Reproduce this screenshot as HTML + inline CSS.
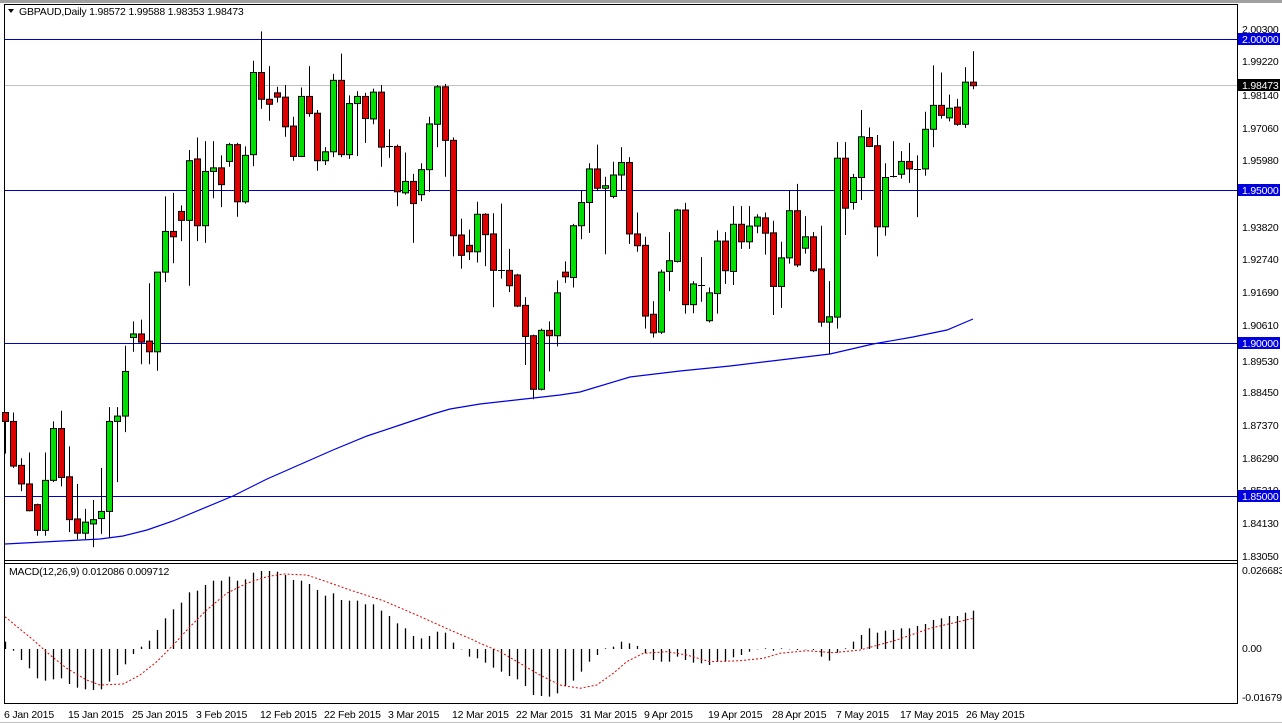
<!DOCTYPE html>
<html><head><meta charset="utf-8"><style>
html,body{margin:0;padding:0;background:#fff;}
svg{display:block;font-family:"Liberation Sans",sans-serif;font-size:10.5px;letter-spacing:-0.2px;}
</style></head><body>
<svg id="s" width="1282" height="724" viewBox="0 0 1282 724" xmlns="http://www.w3.org/2000/svg">
<rect x="0" y="0" width="1282" height="724" fill="#fff"/>
<rect x="0" y="0" width="1282" height="3" fill="#a0a0a0"/>
<line x1="4.5" y1="4" x2="4.5" y2="704" stroke="#000"/>
<line x1="4" y1="4.5" x2="1237" y2="4.5" stroke="#000"/>
<line x1="1237.5" y1="4" x2="1237.5" y2="704" stroke="#000"/>
<line x1="4" y1="560.5" x2="1237" y2="560.5" stroke="#000"/>
<line x1="4" y1="563.5" x2="1237" y2="563.5" stroke="#000"/>
<line x1="4" y1="703.5" x2="1237" y2="703.5" stroke="#000"/>
<line x1="0" y1="722.5" x2="1282" y2="722.5" stroke="#c0c0c0"/>
<line x1="5" y1="39.5" x2="1237" y2="39.5" stroke="#0000c8"/>
<line x1="5" y1="190.5" x2="1237" y2="190.5" stroke="#0000c8"/>
<line x1="5" y1="343.5" x2="1237" y2="343.5" stroke="#0000c8"/>
<line x1="5" y1="496.5" x2="1237" y2="496.5" stroke="#0000c8"/>
<line x1="5" y1="85.5" x2="1237" y2="85.5" stroke="#c0c0c0"/>
<g id="cand"></g>
<g id="macd"></g>
<path d="M8 9 L14 9 L11 13 Z" fill="#000"/>
<text x="19" y="15">GBPAUD,Daily  1.98572 1.99588 1.98353 1.98473</text>
<text x="9" y="575">MACD(12,26,9) 0.012086 0.009712</text>
<g fill="#000">
<text x="1242" y="33">2.00300</text>
<text x="1242" y="65">1.99220</text>
<text x="1242" y="99">1.98140</text>
<text x="1242" y="132">1.97060</text>
<text x="1242" y="164">1.95980</text>
<text x="1242" y="231">1.93820</text>
<text x="1242" y="263">1.92740</text>
<text x="1242" y="296">1.91690</text>
<text x="1242" y="329">1.90610</text>
<text x="1242" y="365">1.89530</text>
<text x="1242" y="396">1.88450</text>
<text x="1242" y="429">1.87370</text>
<text x="1242" y="462">1.86290</text>
<text x="1242" y="494">1.85210</text>
<text x="1242" y="527">1.84130</text>
<text x="1242" y="560">1.83050</text>
<text x="1242" y="574">0.026683</text>
<text x="1242" y="652">0.00</text>
<text x="1242" y="701">-0.016799</text>
</g>
<rect x="1238" y="33" width="42" height="12" fill="#0000e0"/><text x="1242" y="43" fill="#fff">2.00000</text>
<rect x="1238" y="79" width="42" height="12" fill="#000"/><text x="1242" y="89" fill="#fff">1.98473</text>
<rect x="1238" y="184" width="42" height="12" fill="#0000e0"/><text x="1242" y="194" fill="#fff">1.95000</text>
<rect x="1238" y="337" width="42" height="12" fill="#0000e0"/><text x="1242" y="347" fill="#fff">1.90000</text>
<rect x="1238" y="490" width="42" height="12" fill="#0000e0"/><text x="1242" y="500" fill="#fff">1.85000</text>
<g fill="#000">
<text x="4" y="718">6 Jan 2015</text>
<text x="68" y="718">15 Jan 2015</text>
<text x="132" y="718">25 Jan 2015</text>
<text x="196" y="718">3 Feb 2015</text>
<text x="260" y="718">12 Feb 2015</text>
<text x="324" y="718">22 Feb 2015</text>
<text x="388" y="718">3 Mar 2015</text>
<text x="452" y="718">12 Mar 2015</text>
<text x="516" y="718">22 Mar 2015</text>
<text x="580" y="718">31 Mar 2015</text>
<text x="644" y="718">9 Apr 2015</text>
<text x="708" y="718">19 Apr 2015</text>
<text x="772" y="718">28 Apr 2015</text>
<text x="836" y="718">7 May 2015</text>
<text x="900" y="718">17 May 2015</text>
<text x="966" y="718">26 May 2015</text>
</g>
</svg>
<script>
var D=[
['r',1155,1180,1155,1270],['r',1180,1305,1155,1310],['r',1303,1355,1283,1375],['r',1355,1430,1267,1432],['r',1413,1485,1410,1500],
['g',1345,1485,1267,1500],['g',1200,1345,1180,1350],['r',1200,1337,1150,1362],['r',1335,1455,1250,1490],['r',1453,1493,1355,1510],
['g',1462,1493,1425,1510],['g',1455,1467,1400,1532],['g',1432,1452,1310,1495],['g',1180,1432,1140,1505],['g',1165,1180,1140,1350],
['g',1040,1165,968,1210],['g',935,945,900,985],['r',935,958,895,1020],['r',955,985,793,1020],['g',762,985,762,1038],
['g',648,762,550,790],['r',648,663,540,737],['r',592,617,575,675],['g',450,617,420,800],['r',445,632,385,675],
['g',480,632,395,680],['g',470,480,395,555],['r',470,517,435,580],['g',405,452,400,467],['r',405,565,400,607],
['g',435,565,410,570],['g',203,433,170,465],['r',203,278,88,305],['r',278,292,185,338],['r',260,272,243,287],
['r',272,355,238,383],['r',353,438,327,450],['g',270,438,245,440],['r',270,318,185,327],['r',317,450,308,478],
['g',425,450,412,462],['g',225,425,207,440],['r',225,433,150,440],['g',290,433,267,445],['g',270,290,255,437],
['r',270,332,260,400],['g',258,333,248,348],['r',258,412,238,467],['d',410,410,362,442],['r',410,537,405,577],
['g',508,540,427,545],['r',508,570,487,680],['g',475,545,457,563],['g',347,475,327,537],['g',243,348,238,412],
['r',243,393,235,495],['r',393,660,385,718],['r',658,715,612,752],['r',687,705,643,728],['g',600,705,565,735],
['r',600,657,597,745],['r',655,757,597,860],['d',755,755,570,780],['r',757,800,697,818],['r',770,857,767,860],
['r',855,942,832,1022],['r',940,1090,937,1118],['g',925,1090,920,1093],['r',925,940,900,1040],['g',820,940,785,970],
['r',762,775,732,792],['g',632,777,627,805],['g',567,632,533,670],['g',473,567,457,652],['r',473,527,405,535],
['g',520,527,495,712],['g',490,550,453,555],['g',455,490,412,533],['r',455,655,440,683],['r',655,688,595,705],
['r',687,885,663,920],['r',880,932,843,945],['g',762,930,755,935],['g',730,760,650,815],['g',588,732,585,735],
['r',588,853,568,878],['g',795,853,787,877],['d',797,797,720,845],['g',820,898,805,903],['g',675,822,645,878],
['r',675,758,650,795],['g',628,760,577,798],['r',628,677,577,697],['g',633,677,577,697],['g',608,633,600,653],
['r',610,653,595,713],['r',652,802,618,882],['g',722,802,677,862],['g',590,722,533,738],['r',590,742,515,748],
['g',663,695,605,710],['r',663,758,650,762],['r',753,902,632,915],['g',887,902,787,990],['g',443,888,398,920],
['r',443,583,398,658],['g',497,567,487,587],['g',383,497,308,560],['r',385,410,357,412],['r',408,635,378,718],
['g',497,635,457,660],['d',493,493,395,497],['g',452,488,423,500],['r',452,473,400,512],['d',472,472,435,608],
['g',362,473,313,492],['g',295,362,183,412],['r',295,323,203,332],['g',303,330,265,340],['r',300,348,277,352],
['g',230,348,188,358],['r',230,240,143,250]];
var H=[245,272,300,325,355,362,358,355,372,383,388,390,388,365,345,313,282,260,242,210,175,148,128,97,92,75,62,62,50,62,58,38,33,33,35,45,60,62,72,90,107,100,120,122,122,133,133,152,168,190,205,228,235,228,215,218,248,268,290,295,308,323,335,348,358,378,405,408,410,400,378,362,335,305,285,265,260,245,250,258,280,300,305,305,290,300,308,310,315,305,305,292,285,275,268,265,272,265,268,270,268,270,290,302,278,265,245,225,205,218,212,210,205,205,198,192,180,175,168,168,158,152];
var c=document.getElementById('cand'),m=document.getElementById('macd'),s='';
function Y(v){return v/2.8;}
for(var i=0;i<D.length;i++){var d=D[i],x=5+8*i,t=Y(d[1]),b=Y(d[2]),wt=Y(d[3]),wb=Y(d[4]);
s+='<line x1="'+(x+.5)+'" y1="'+wt+'" x2="'+(x+.5)+'" y2="'+wb+'" stroke="#000"/>';
if(d[0]=='d'){s+='<line x1="'+(x-3)+'" y1="'+(Math.round(t)+.5)+'" x2="'+(x+4)+'" y2="'+(Math.round(t)+.5)+'" stroke="#000"/>';}
else{var h=Math.max(b-t,2);s+='<rect x="'+(x-2.5)+'" y="'+t+'" width="6" height="'+h+'" fill="'+(d[0]=='g'?'#00e000':'#e00000')+'" stroke="#000"/>';}}
var ma=[[5,544],[100,539],[123,536],[147,530],[173,521],[233,496],[267,479],[333,450],[367,436],[400,425],[433,414],[450,409],[480,404],[560,395],[580,392],[630,377],[680,371],[730,366],[780,360],[830,354],[873,344],[913,337],[947,330],[973,319]];
s+='<polyline fill="none" stroke="#0000e0" stroke-width="1.2" points="'+ma.map(function(p){return p.join(',')}).join(' ')+'"/>';
c.innerHTML=s;s='';
for(i=0;i<H.length;i++){var x=5+8*i+.5,y=560+H[i]/3;s+='<line x1="'+x+'" y1="649" x2="'+x+'" y2="'+y+'" stroke="#000" stroke-width="1.3"/>';}
var sg=[[15,170],[100,240],[150,285],[200,325],[260,360],[300,375],[370,372],[420,345],[470,305],[520,255],[570,200],[620,150],[680,100],[740,70],[800,50],[850,42],[920,45],[980,65],[1050,90],[1150,122],[1250,165],[1350,210],[1420,240]].map(function(p){return [p[0]/3,560+p[1]/3]});
[[0,250],[60,275],[120,310],[180,345],[240,375],[300,385],[350,375],[400,340],[440,305],[490,280],[560,275],[620,285],[690,305],[780,302],[850,295],[900,280],[980,272],[1060,278],[1140,270],[1250,240],[1350,205],[1480,175]].forEach(function(p){sg.push([480+p[0]/3,560+p[1]/3])});
s+='<polyline fill="none" stroke="#e00000" stroke-dasharray="2,2" points="'+sg.map(function(p){return p[0].toFixed(1)+','+p[1].toFixed(1)}).join(' ')+'"/>';
m.innerHTML=s;
</script>
</body></html>
